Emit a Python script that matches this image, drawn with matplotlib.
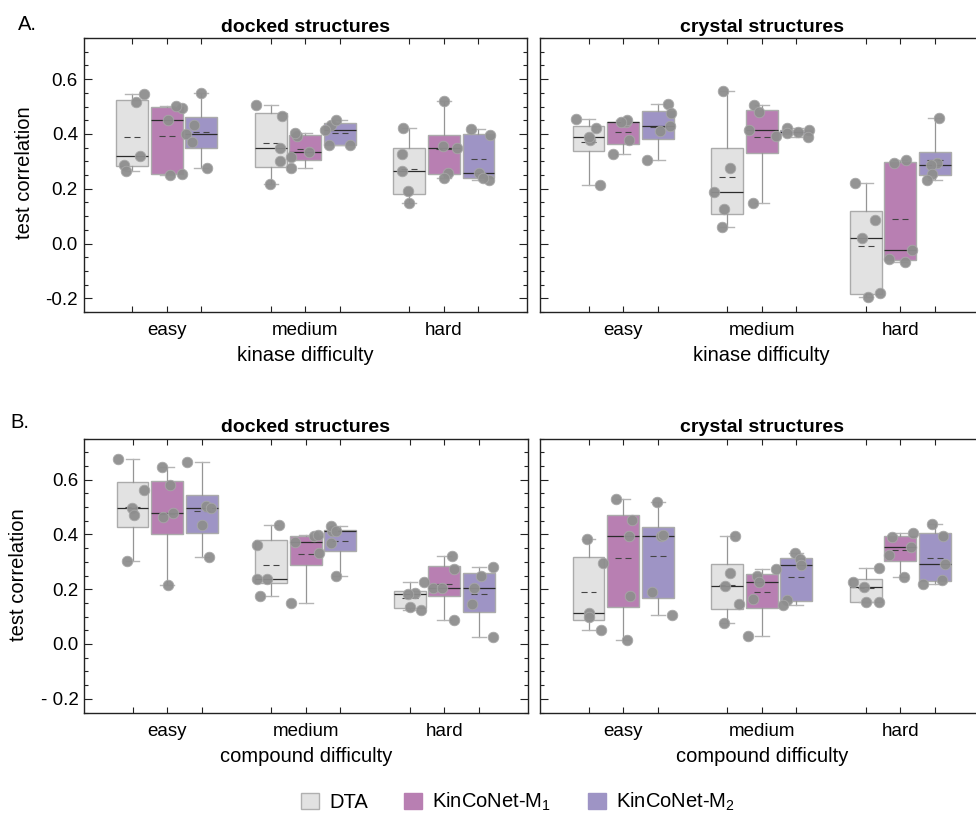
import numpy as np
import matplotlib
matplotlib.use('Agg')
import matplotlib.pyplot as plt
from matplotlib.patches import Patch

plt.rcParams['font.family'] = ['Liberation Sans', 'DejaVu Sans']
plt.rcParams['font.size'] = 13.5

# ---------------- data ----------------
difficulties = ['easy', 'medium', 'hard']
methods = ['DTA', 'KinCoNet-M$\\mathregular{_1}$', 'KinCoNet-M$\\mathregular{_2}$']
y_ticks = [-0.2, 0.0, 0.2, 0.4, 0.6]
y_ticklabels_A = ['-0.2', '0.0', '0.2', '0.4', '0.6']
y_ticklabels_B = ['- 0.2', '0.0', '0.2', '0.4', '0.6']

# A. kinase difficulty, docked structures  (easy, medium, hard; 5 runs each)
kin_docked_dta = [[0.515, 0.547, 0.321, 0.288, 0.266],
                  [0.465, 0.507, 0.350, 0.302, 0.218],
                  [0.423, 0.326, 0.266, 0.192, 0.146]]
kin_docked_m1 = [[0.452, 0.496, 0.503, 0.250, 0.253],
                 [0.391, 0.405, 0.334, 0.316, 0.276],
                 [0.519, 0.357, 0.348, 0.259, 0.238]]
kin_docked_m2 = [[0.551, 0.432, 0.398, 0.371, 0.274],
                 [0.434, 0.450, 0.413, 0.361, 0.360],
                 [0.418, 0.395, 0.259, 0.231, 0.240]]

# A. kinase difficulty, crystal structures
kin_crystal_dta = [[0.422, 0.455, 0.378, 0.388, 0.212],
                   [0.558, 0.277, 0.188, 0.125, 0.061],
                   [0.220, 0.086, 0.021, -0.180, -0.196]]
kin_crystal_m1 = [[0.443, 0.452, 0.377, 0.326, 0.442],
                  [0.506, 0.479, 0.416, 0.391, 0.146],
                  [0.304, 0.295, -0.023, -0.066, -0.057]]
kin_crystal_m2 = [[0.508, 0.477, 0.430, 0.409, 0.304],
                  [0.422, 0.413, 0.407, 0.404, 0.389],
                  [0.458, 0.292, 0.286, 0.255, 0.233]]

# B. compound difficulty, docked structures
cmp_docked_dta = [[0.677, 0.562, 0.497, 0.469, 0.303],
                  [0.436, 0.361, 0.237, 0.237, 0.174],
                  [0.225, 0.185, 0.181, 0.134, 0.123]]
cmp_docked_m1 = [[0.646, 0.579, 0.477, 0.462, 0.215],
                 [0.395, 0.396, 0.373, 0.333, 0.148],
                 [0.321, 0.274, 0.203, 0.204, 0.088]]
cmp_docked_m2 = [[0.665, 0.505, 0.497, 0.436, 0.317],
                 [0.413, 0.430, 0.413, 0.370, 0.250],
                 [0.281, 0.250, 0.205, 0.145, 0.027]]

# B. compound difficulty, crystal structures
cmp_crystal_dta = [[0.383, 0.297, 0.114, 0.098, 0.051],
                   [0.393, 0.258, 0.213, 0.146, 0.075],
                   [0.278, 0.225, 0.209, 0.154, 0.154]]
cmp_crystal_m1 = [[0.530, 0.453, 0.393, 0.174, 0.015],
                  [0.274, 0.249, 0.225, 0.165, 0.028],
                  [0.391, 0.405, 0.353, 0.325, 0.243]]
cmp_crystal_m2 = [[0.519, 0.394, 0.397, 0.190, 0.105],
                  [0.331, 0.309, 0.288, 0.160, 0.141],
                  [0.438, 0.395, 0.292, 0.233, 0.218]]

# ---------------- style ----------------
COLORS = ['#e2e2e2', '#b87fb2', '#9e94c5']
BOX_EDGE = '#ababab'
POINT_COLOR = '#8e8e8e'
OFFSETS = [-0.25, 0.0, 0.25]
BOX_W = 0.23

fig = plt.figure(figsize=(9.76, 8.15), dpi=100)
W, H = 976.0, 815.0


def axes_px(x0, y0, x1, y1):
    return fig.add_axes([x0 / W, 1 - y1 / H, (x1 - x0) / W, (y1 - y0) / H])


rng = np.random.default_rng(7)


def draw_panel(ax, series, title, xlabel, yticklabels, show_ylabels):
    for mi, method_data in enumerate(series):
        for gi, vals in enumerate(method_data):
            v = np.asarray(vals, dtype=float)
            pos = gi + OFFSETS[mi]
            q1, med, q3 = np.percentile(v, [25, 50, 75], method='hazen')
            stats = dict(med=med, q1=q1, q3=q3, whislo=v.min(), whishi=v.max(),
                         fliers=[])
            ax.bxp([stats], positions=[pos], widths=BOX_W, capwidths=0.1,
                   patch_artist=True, showfliers=False, manage_ticks=False,
                   boxprops=dict(facecolor=COLORS[mi], edgecolor=BOX_EDGE, linewidth=1.0),
                   medianprops=dict(color='#2b2b2b', linewidth=0.9),
                   whiskerprops=dict(color='#959595', linewidth=0.9),
                   capprops=dict(color='#b5b5b5', linewidth=1.0))
            ax.hlines(v.mean(), pos - BOX_W * 0.25, pos + BOX_W * 0.25,
                      colors='#444444', linewidth=0.8, linestyles=(0, (5.5, 3.5)),
                      zorder=4)
            jit = rng.uniform(-0.11, 0.11, len(v))
            ax.scatter(pos + jit, v, s=58, color=POINT_COLOR, edgecolor='#a8a8a8',
                       linewidth=0.6, alpha=0.95, zorder=5)

    ax.set_xlim(-0.6, 2.6)
    ax.set_ylim(-0.25, 0.75)
    xt = [g + o for g in range(3) for o in OFFSETS]
    xl = []
    for g in range(3):
        xl += ['', difficulties[g], '']
    ax.set_xticks(xt)
    ax.set_xticklabels(xl)
    ax.set_yticks(y_ticks)
    ax.set_yticks(np.arange(-0.25, 0.751, 0.05), minor=True)
    if show_ylabels:
        ax.set_yticklabels(yticklabels)
    else:
        ax.set_yticklabels([])
    ax.tick_params(axis='both', which='both', direction='in', top=True, right=True,
                   colors='#222222', labelcolor='black', labelsize=13.5)
    ax.tick_params(axis='x', which='major', length=4, width=0.8, pad=7.5)
    ax.tick_params(axis='y', which='major', length=6, width=0.8, pad=4)
    ax.tick_params(axis='y', which='minor', length=3, width=0.8)
    ax.tick_params(axis='x', which='minor', length=0)
    for s in ax.spines.values():
        s.set_color('#222222')
        s.set_linewidth(1.0)
    ax.set_title(title, fontsize=14, fontweight='bold', pad=4.5)
    ax.set_xlabel(xlabel, fontsize=14.5, labelpad=5)


axA1 = axes_px(83.5, 38, 527, 312)
axA2 = axes_px(540, 38, 983.5, 312)
axB1 = axes_px(84, 438.5, 527.5, 712.5)
axB2 = axes_px(540, 438.5, 983.5, 712.5)

draw_panel(axA1, [kin_docked_dta, kin_docked_m1, kin_docked_m2],
           'docked structures', 'kinase difficulty', y_ticklabels_A, True)
draw_panel(axA2, [kin_crystal_dta, kin_crystal_m1, kin_crystal_m2],
           'crystal structures', 'kinase difficulty', y_ticklabels_A, False)
draw_panel(axB1, [cmp_docked_dta, cmp_docked_m1, cmp_docked_m2],
           'docked structures', 'compound difficulty', y_ticklabels_B, True)
draw_panel(axB2, [cmp_crystal_dta, cmp_crystal_m1, cmp_crystal_m2],
           'crystal structures', 'compound difficulty', y_ticklabels_B, False)

fig.text(25 / W, 1 - 173 / H, 'test correlation', rotation=90, ha='center', va='center', fontsize=14.5)
fig.text(19 / W, 1 - 575 / H, 'test correlation', rotation=90, ha='center', va='center', fontsize=14.5)
fig.text(18 / W, 1 - 25 / H, 'A.', ha='left', va='center', fontsize=14.5)
fig.text(10 / W, 1 - 422 / H, 'B.', ha='left', va='center', fontsize=14.5)

handles = [Patch(facecolor=COLORS[0], edgecolor='#b0b0b0', linewidth=1.0),
           Patch(facecolor=COLORS[1], edgecolor=COLORS[1], linewidth=1.0),
           Patch(facecolor=COLORS[2], edgecolor=COLORS[2], linewidth=1.0)]
fig.legend(handles, methods, loc='center', bbox_to_anchor=(518 / W, 1 - 802 / H),
           ncol=3, frameon=False, fontsize=14.5, handlelength=0.9, handleheight=0.9,
           handletextpad=0.5, columnspacing=1.8, borderaxespad=0, borderpad=0)

fig.savefig('out.png', dpi=100)
